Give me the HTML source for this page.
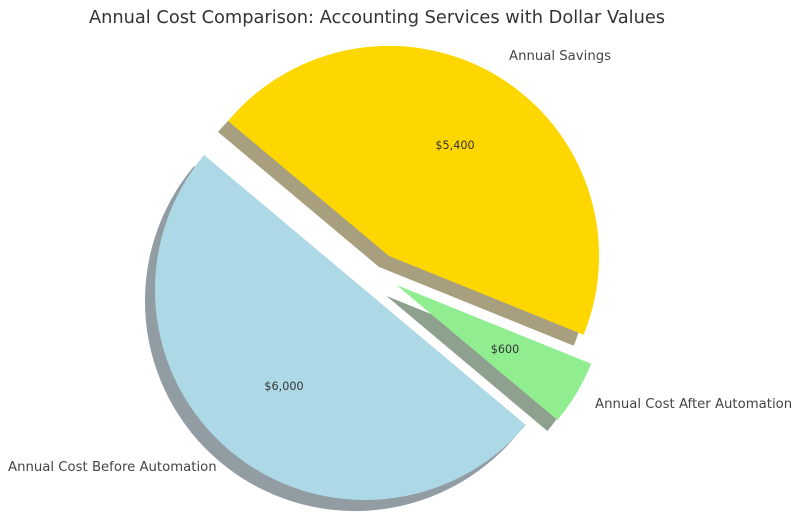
<!DOCTYPE html>
<html><head><meta charset="utf-8"><style>
html,body{margin:0;padding:0;background:#fff;}
svg{display:block;font-family:"DejaVu Sans","Liberation Sans",sans-serif;}
</style></head><body>
<svg width="800" height="524" viewBox="0 0 800 524" xmlns="http://www.w3.org/2000/svg">
<rect width="800" height="524" fill="#fff"/>
<text x="377" y="23" text-anchor="middle" font-size="17.8" fill="#333">Annual Cost Comparison: Accounting Services with Dollar Values</text>
<g transform="translate(-10,11)">
<path d="M365,290 L204.1,155 A210,210 0 0 0 525.9,425 Z" fill="#929ca3"/>
<path d="M396.5,285 L557.4,420 A210,210 0 0 0 591.2,363.7 Z" fill="#8ea08e"/>
<path d="M389,256 L583.7,334.7 A210,210 0 0 0 228.1,121 Z" fill="#a89f7e"/>
</g>
<path d="M365,290 L204.1,155 A210,210 0 0 0 525.9,425 Z" fill="#add8e6"/>
<path d="M396.5,285 L557.4,420 A210,210 0 0 0 591.2,363.7 Z" fill="#90ee90"/>
<path d="M389,256 L583.7,334.7 A210,210 0 0 0 228.1,121 Z" fill="#ffd700"/>
<g font-size="13.25" fill="#444">
<text x="509" y="60">Annual Savings</text>
<text x="595" y="408">Annual Cost After Automation</text>
<text x="8" y="471">Annual Cost Before Automation</text>
</g>
<g font-size="11.2" fill="#333" text-anchor="middle">
<text x="455" y="149">$5,400</text>
<text x="505" y="353">$600</text>
<text x="284" y="390">$6,000</text>
</g>
</svg>
</body></html>
